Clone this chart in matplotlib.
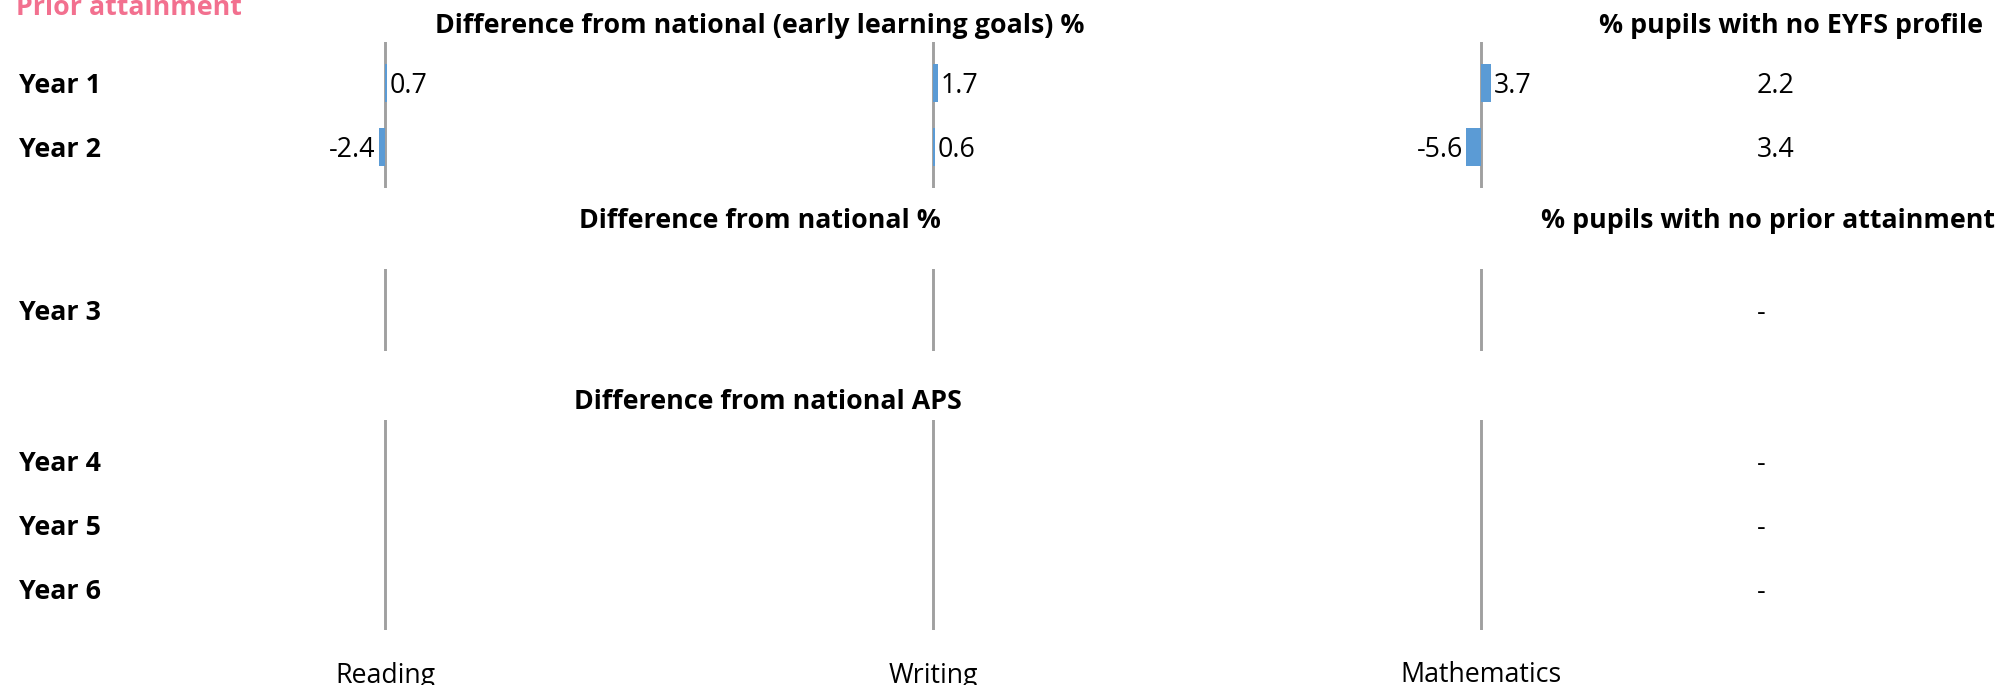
import numpy as np
import matplotlib
matplotlib.use("Agg")
import matplotlib.pyplot as plt
from matplotlib.transforms import blended_transform_factory

plt.rcParams['font.family'] = ['Open Sans', 'DejaVu Sans']

# Данные
subjects = ["Reading", "Writing", "Mathematics"]

years_eyfs = ["Year 1", "Year 2"]
reading_eyfs = [0.7, -2.4]
writing_eyfs = [1.7, 0.6]
maths_eyfs = [3.7, -5.6]
no_eyfs_profile = [2.2, 3.4]

years_pct = ["Year 3"]
reading_pct = [np.nan]
writing_pct = [np.nan]
maths_pct = [np.nan]
no_prior_pct = [None]

years_aps = ["Year 4", "Year 5", "Year 6"]
reading_aps = [np.nan, np.nan, np.nan]
writing_aps = [np.nan, np.nan, np.nan]
maths_aps = [np.nan, np.nan, np.nan]
no_prior_aps = [None, None, None]

W, H = 2013, 685
BAR_COLOR = "#5b9bd5"
LINE_COLOR = "#a0a0a0"
PINK = "#f2708f"
FS = 19.3

fig = plt.figure(figsize=(W / 100, H / 100), dpi=100)


def fx(x):
    return x / W


def fy(y):
    return 1 - y / H


zero_x = [385, 933, 1481]   # пиксельные позиции нулевых линий
ax_w = 400
px_per_unit = 2.65
row_px = 64
pad = 0.64

sections = [
    ("Difference from national (early learning goals) %", 760, 23,
     "% pupils with no EYFS profile", 1791, 42,
     years_eyfs, [reading_eyfs, writing_eyfs, maths_eyfs], no_eyfs_profile),
    ("Difference from national %", 760, 218,
     "% pupils with no prior attainment", 1768, 269,
     years_pct, [reading_pct, writing_pct, maths_pct], no_prior_pct),
    ("Difference from national APS", 768, 399,
     None, None, 420,
     years_aps, [reading_aps, writing_aps, maths_aps], no_prior_aps),
]

lim = ax_w / 2 / px_per_unit
for title, tx, ty, rtitle, rtx, top, years, values, right_vals in sections:
    n = len(years)
    h_px = (n - 1 + 2 * pad) * row_px
    axes = []
    for i, vals in enumerate(values):
        ax = fig.add_axes([fx(zero_x[i] - ax_w / 2), fy(top + h_px), fx(ax_w), h_px / H])
        ax.set_xlim(-lim, lim)
        ax.set_ylim(n - 1 + pad, -pad)
        ax.axis("off")
        ax.axvline(0, color=LINE_COLOR, lw=2.1, zorder=1)
        y = np.arange(n)
        ax.barh(y, vals, height=0.6, color=BAR_COLOR, zorder=2)
        for yi, v in zip(y, vals):
            if np.isnan(v):
                continue
            off = 2.2 if v >= 0 else -2.2
            ax.annotate(f"{v:.1f}", (v, yi), xytext=(off, 0), textcoords="offset points",
                        ha="left" if v >= 0 else "right", va="center_baseline", fontsize=FS)
        axes.append(ax)
    ax0 = axes[0]
    tr = blended_transform_factory(fig.transFigure, ax0.transData)
    for yi, (yr, rv) in enumerate(zip(years, right_vals)):
        ax0.text(fx(19), yi, yr, transform=tr, ha="left", va="center_baseline",
                 fontsize=FS, fontweight="bold")
        txt = "-" if rv is None else f"{rv:.1f}"
        ax0.text(fx(1757), yi, txt, transform=tr, ha="left", va="center_baseline", fontsize=FS)
    fig.text(fx(tx), fy(ty), title, ha="center", va="center_baseline", fontsize=FS, fontweight="bold")
    if rtitle:
        fig.text(fx(rtx), fy(ty), rtitle, ha="center", va="center_baseline", fontsize=FS,
                 fontweight="bold")

for x0, name in zip(zero_x, subjects):
    fig.text(fx(x0), fy(672), name, ha="center", va="center_baseline", fontsize=FS)

# заголовок обрезан сверху, как в оригинале
fig.text(fx(16), fy(15), "Prior attainment", ha="left", va="baseline",
         fontsize=FS, fontweight="bold", color=PINK)

fig.savefig("out.png", dpi=100)
